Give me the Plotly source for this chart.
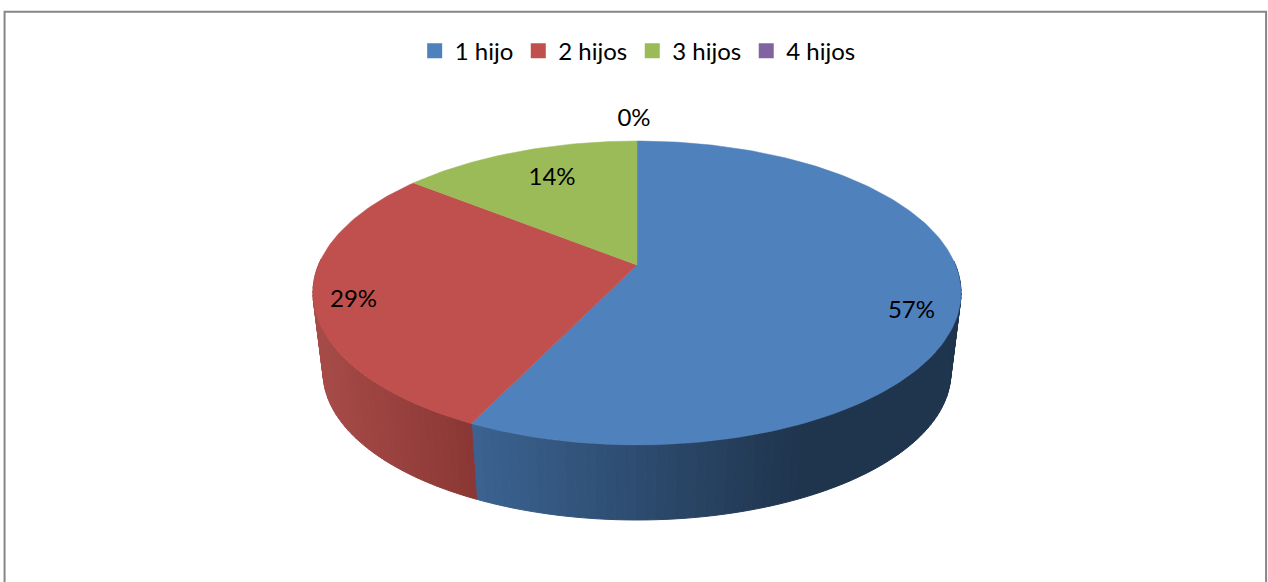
import math
import plotly.graph_objects as go

categories = ["1 hijo", "2 hijos", "3 hijos", "4 hijos"]
values = [4, 2, 1, 0]
top_colors = ["#4F81BD", "#C0504D", "#9BBB59", "#8064A2"]
# side shading: (colour at left of band, colour at right of band, x where shading ends)
side_light = [(59, 99, 145), (168, 76, 73), (120, 145, 70), (100, 78, 126)]
side_dark = [(31, 52, 77), (138, 55, 53), (120, 145, 70), (100, 78, 126)]
shade_span = [(476, 800), (316, 476), (414, 637), (637, 637)]

# label nudges (pixels) and font
label_nudge = [(1, 18), (-10, 7), (18, 13), (-3, 2)]
W, H = 1268, 582
CX = 637
K = 0.184


def project(angle, r, R, B, y0):
    u = r * math.sin(angle)
    v = r * math.cos(angle)
    w = 1 + K * v
    return CX + R * u / w, y0 - B * v / w


def top(angle, r=1.0):
    return project(angle, r, 318.5, 146.8, 265)


def bottom(angle, r=1.0):
    return project(angle, r, 308.5, 142.3, 345.6)


total = sum(values)
fig = go.Figure()

starts = []
acc = 0
for v in values:
    starts.append(acc / total * 2 * math.pi)
    acc += v


def mix(a, b, t):
    t = max(0, min(1, t))
    return "rgb(%d,%d,%d)" % tuple(round(a[i] + (b[i] - a[i]) * t) for i in range(3))


# side wall
for i, v in enumerate(values):
    a0 = starts[i]
    a1 = a0 + v / total * 2 * math.pi
    if v == 0:
        continue
    n = max(2, int((a1 - a0) / math.radians(1.5)))
    for j in range(n):
        s = a0 + (a1 - a0) * j / n
        e = a0 + (a1 - a0) * (j + 1) / n
        mid = (s + e) / 2
        if not (math.radians(88) < mid < math.radians(272)):
            continue
        p1, p2, p3, p4 = top(s), top(e), bottom(e), bottom(s)
        col = mix(side_light[i], side_dark[i],
                  (bottom(mid)[0] - shade_span[i][0]) / max(1, shade_span[i][1] - shade_span[i][0]))
        fig.add_trace(go.Scatter(
            x=[p1[0], p2[0], p3[0], p4[0], p1[0]],
            y=[p1[1], p2[1], p3[1], p4[1], p1[1]],
            mode="lines", fill="toself", fillcolor=col,
            line=dict(color=col, width=1), showlegend=False, hoverinfo="skip"))

# top face
for i, v in enumerate(values):
    if v == 0:
        continue
    a0 = starts[i]
    a1 = a0 + v / total * 2 * math.pi
    n = max(2, int((a1 - a0) / math.radians(1)))
    pts = [top(a0 + (a1 - a0) * j / n) for j in range(n + 1)]
    c = top(0, 0)
    pts = [c] + pts + [c]
    fig.add_trace(go.Scatter(
        x=[p[0] for p in pts], y=[p[1] for p in pts],
        mode="lines", fill="toself", fillcolor=top_colors[i],
        line=dict(color=top_colors[i], width=0.5), showlegend=False, hoverinfo="skip"))

# percentage labels
lx, ly, lt = [], [], []
for i, v in enumerate(values):
    mid = starts[i] + v / total * math.pi
    if v == 0:
        p = top(mid, 1.0)
        p = (p[0], p[1] - 23)
    else:
        p = top(mid, 0.85)
    lx.append(p[0] + label_nudge[i][0])
    ly.append(p[1] + label_nudge[i][1])
    lt.append("%d%%" % round(v / total * 100))
fig.add_trace(go.Scatter(x=lx, y=ly, text=lt, mode="text", showlegend=False,
                         textfont=dict(family="Lato", size=24, color="#000000"),
                         hoverinfo="skip"))

# legend entries
for name, col in zip(categories, top_colors):
    fig.add_trace(go.Scatter(x=[None], y=[None], mode="markers", name=name,
                             marker=dict(symbol="square", size=15, color=col)))

fig.update_layout(
    width=W, height=H, margin=dict(l=0, r=0, t=0, b=0),
    paper_bgcolor="white", plot_bgcolor="white",
    xaxis=dict(range=[0, W], visible=False, fixedrange=True),
    yaxis=dict(range=[H, 0], visible=False, fixedrange=True),
    legend=dict(orientation="h", x=0.5029, xanchor="center", y=0.912, yanchor="middle",
                font=dict(family="Lato", size=24, color="#000000"),
                bgcolor="rgba(0,0,0,0)", traceorder="normal"),
    shapes=[dict(type="path", xref="paper", yref="paper",
                 path="M 0.0036 0 L 0.0036 0.98 L 0.9985 0.98 L 0.9985 0",
                 line=dict(color="#868686", width=2))],
)
fig.write_html("out.html", config={"displayModeBar": False},
               post_script="document.body.style.margin='0';document.documentElement.style.overflow='hidden';")
